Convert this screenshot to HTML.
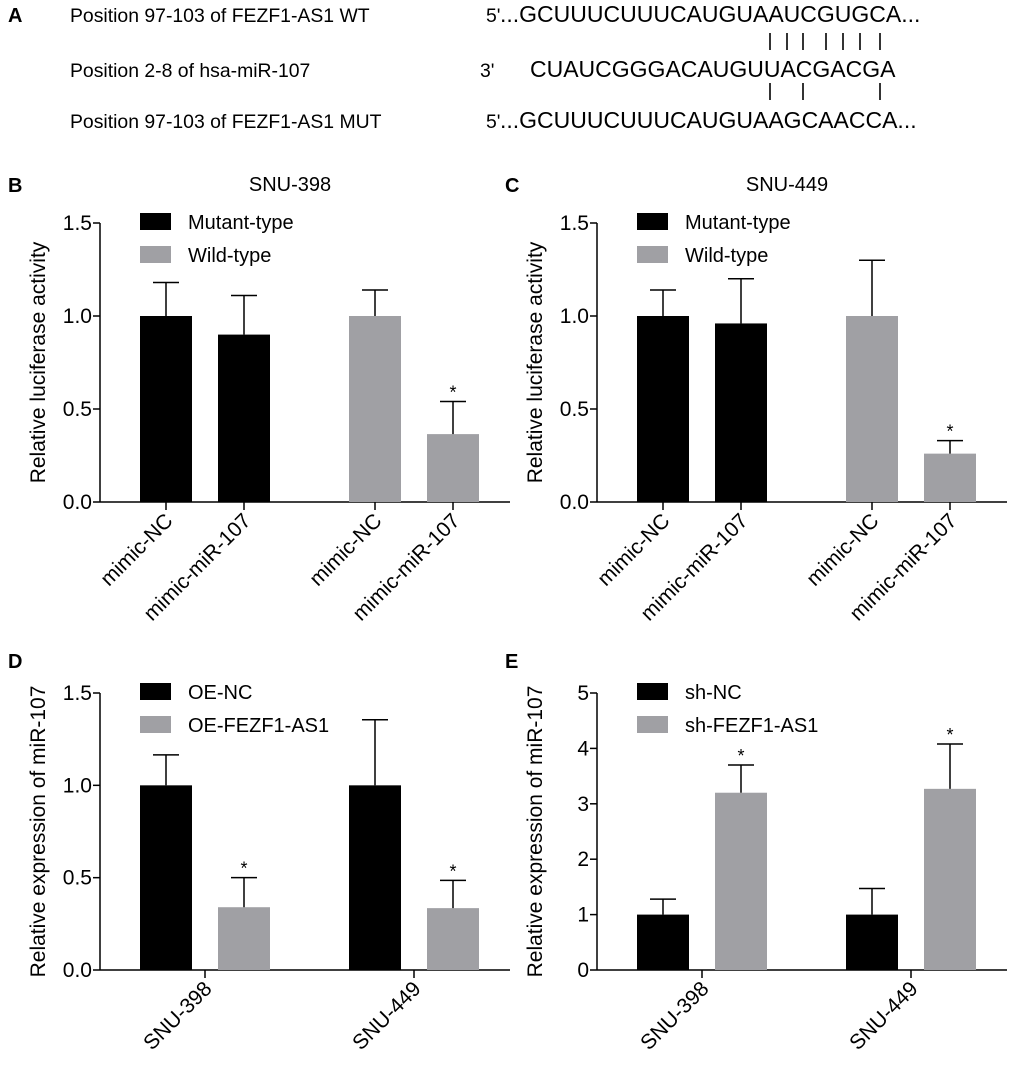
<!DOCTYPE html>
<html><head><meta charset="utf-8"><style>
body{margin:0;background:#fff;}
svg{font-family:"Liberation Sans",Arial,sans-serif;}
</style></head><body>
<svg id="fig" width="1020" height="1060" viewBox="0 0 1020 1060" xmlns="http://www.w3.org/2000/svg">
<g font-size="19.4" fill="#000">
<text x="8" y="22" font-weight="bold" font-size="20">A</text>
<text x="70" y="22">Position 97-103 of FEZF1-AS1 WT</text>
<text x="486" y="22">5'</text>
<text x="500" y="22" font-size="23">...GCUUUCUUUCAUGUAAUCGUGCA...</text>
<text x="70" y="77">Position 2-8 of hsa-miR-107</text>
<text x="480" y="77">3'</text>
<text x="530" y="77" font-size="23">CUAUCGGGACAUGUUACGACGA</text>
<text x="70" y="128">Position 97-103 of FEZF1-AS1 MUT</text>
<text x="486" y="128">5'</text>
<text x="500" y="128" font-size="23">...GCUUUCUUUCAUGUAAGCAACCA...</text>
<g stroke="#000" stroke-width="1.6">
<line x1="770" y1="33" x2="770" y2="50"/><line x1="787" y1="33" x2="787" y2="50"/><line x1="803" y1="33" x2="803" y2="50"/><line x1="826" y1="33" x2="826" y2="50"/><line x1="843" y1="33" x2="843" y2="50"/><line x1="860" y1="33" x2="860" y2="50"/><line x1="880" y1="33" x2="880" y2="50"/>
<line x1="770" y1="83" x2="770" y2="100"/><line x1="803" y1="83" x2="803" y2="100"/><line x1="880" y1="83" x2="880" y2="100"/>
</g>
</g>
</svg>
<script>
const bCats=["mimic-NC","mimic-miR-107","mimic-NC","mimic-miR-107"];
const bVals=[1.0,0.9,1.0,0.365];
const bErr=[1.18,1.11,1.14,0.54];
const bStar=[false,false,false,true];
const cVals=[1.0,0.96,1.0,0.26];
const cErr=[1.14,1.20,1.30,0.33];
const cStar=[false,false,false,true];
const dCats=["SNU-398","SNU-449"];
const dVals=[1.0,0.34,1.0,0.335];
const dErr=[1.165,0.50,1.355,0.485];
const dStar=[false,true,false,true];
const eVals=[1.0,3.2,1.0,3.27];
const eErr=[1.28,3.7,1.47,4.08];
const eStar=[false,true,false,true];
const ticksLuc=["0.0","0.5","1.0","1.5"];
const ticksE=["0","1","2","3","4","5"];
const BLACK="#000",GREY="#a0a0a4";
const NS="http://www.w3.org/2000/svg";
const svg=document.getElementById('fig');
function el(tag,attrs,parent,text){const e=document.createElementNS(NS,tag);for(const k in attrs)e.setAttribute(k,attrs[k]);if(text!==undefined)e.textContent=text;(parent||svg).appendChild(e);return e;}
function panel(o){
  const g=el('g',{});
  
  
  const ax=o.ax, top=o.top, bot=o.bot, max=o.max;
  const y=v=>bot-(v/max)*(bot-top);
  const lab=el('text',{x:ax-92,y:o.labelY,'font-size':20,'font-weight':'bold'},g,o.letter);
  
  
  if(o.title){const t=el('text',{x:ax+190,y:top-32,'font-size':20,'text-anchor':'middle'},g,o.title);
    
    }
  el('line',{x1:ax,y1:top,x2:ax,y2:bot,stroke:'#000','stroke-width':1.5},g);
  el('line',{x1:ax,y1:bot,x2:ax+410,y2:bot,stroke:'#000','stroke-width':1.5},g);
  o.ticks.forEach(t=>{const v=parseFloat(t);const yy=y(v);
    el('line',{x1:ax-7,y1:yy,x2:ax,y2:yy,stroke:'#000','stroke-width':1.5},g);
    const tx=el('text',{x:ax-8,y:yy+7,'font-size':21,'text-anchor':'end'},g,t);
    
    });
  const yl=el('text',{x:0,y:0,'font-size':21,'text-anchor':'middle',transform:`translate(${ax-55},${(top+bot)/2}) rotate(-90)`},g,o.ylabel);
  
  
  const xs=[ax+40,ax+118,ax+249,ax+327], bw=52;
  o.vals.forEach((v,i)=>{
    const col=o.colors[i];
    const r=el('rect',{x:xs[i],y:y(v),width:bw,height:bot-y(v),fill:col},g);
    
    
    const cx=xs[i]+bw/2;
    el('line',{x1:cx,y1:y(o.err[i]),x2:cx,y2:y(v),stroke:'#000','stroke-width':1.5},g);
    el('line',{x1:cx-13,y1:y(o.err[i]),x2:cx+13,y2:y(o.err[i]),stroke:'#000','stroke-width':1.5},g);
    if(o.star[i]){const s=el('text',{x:cx,y:y(o.err[i])-3,'font-size':18,'text-anchor':'middle'},g,'*');
      
      }
  });
  let tickX;
  if(o.cats.length===4) tickX=xs.map(x=>x+bw/2);
  else tickX=[ (xs[0]+xs[1]+bw)/2, (xs[2]+xs[3]+bw)/2 ];
  o.cats.forEach((c,i)=>{const tx=tickX[i];
    el('line',{x1:tx,y1:bot,x2:tx,y2:bot+8,stroke:'#000','stroke-width':1.5},g);
    const t=el('text',{x:0,y:0,'font-size':21,'text-anchor':'end',transform:`translate(${tx+8},${bot+20}) rotate(-45)`},g,c);
    
    });
  o.legend.forEach((l,i)=>{
    const ly=top-10+i*33;
    const lg=el('g',{},g);
    
    
    el('rect',{x:ax+40,y:ly,width:31,height:17,fill:i?GREY:BLACK},lg);
    el('text',{x:ax+88,y:ly+16,'font-size':20},lg,l);
  });
}
panel({name:'panel-b',letter:'B',labelY:192,title:'SNU-398',ax:100,top:223,bot:502,max:1.5,ticks:ticksLuc,ylabel:'Relative luciferase activity',cats:bCats,vals:bVals,err:bErr,star:bStar,colors:[BLACK,BLACK,GREY,GREY],legend:['Mutant-type','Wild-type']});
panel({name:'panel-c',letter:'C',labelY:192,title:'SNU-449',ax:597,top:223,bot:502,max:1.5,ticks:ticksLuc,ylabel:'Relative luciferase activity',cats:bCats,vals:cVals,err:cErr,star:cStar,colors:[BLACK,BLACK,GREY,GREY],legend:['Mutant-type','Wild-type']});
panel({name:'panel-d',letter:'D',labelY:668,ax:100,top:693,bot:970,max:1.5,ticks:ticksLuc,ylabel:'Relative expression of miR-107',cats:dCats,vals:dVals,err:dErr,star:dStar,colors:[BLACK,GREY,BLACK,GREY],legend:['OE-NC','OE-FEZF1-AS1']});
panel({name:'panel-e',letter:'E',labelY:668,ax:597,top:693,bot:970,max:5,ticks:ticksE,ylabel:'Relative expression of miR-107',cats:dCats,vals:eVals,err:eErr,star:eStar,colors:[BLACK,GREY,BLACK,GREY],legend:['sh-NC','sh-FEZF1-AS1']});
</script>
</body></html>
